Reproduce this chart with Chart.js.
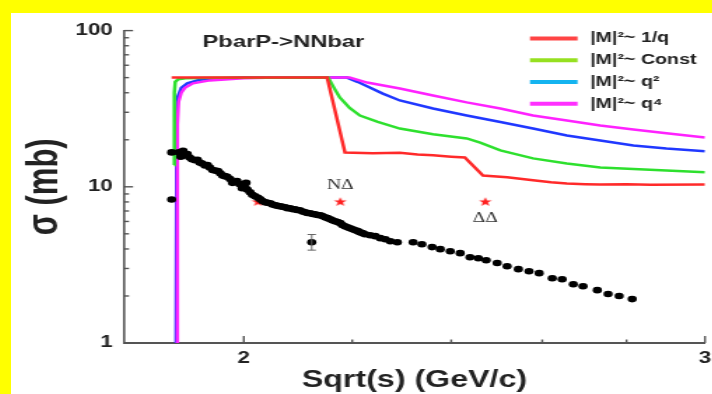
<!DOCTYPE html>
<html lang="en">
<head>
  <meta charset="UTF-8">
  <title>PbarP->NNbar</title>
  <script src="https://cdn.jsdelivr.net/npm/chart.js"></script>
  <style>
    html, body { margin: 0; padding: 0; background: #ffff00; overflow: hidden; }
    #frame { position: absolute; left: 11px; top: 13px; width: 701px; height: 381px; background: #fff; overflow: hidden; }
    #wrap { width: 501px; height: 381px; transform: scaleX(1.4); transform-origin: 0 0; }
  </style>
</head>
<body>
  <div id="frame"><div id="wrap"><canvas id="chart" width="501" height="381"></canvas></div></div>

  <script>
    // axis ticks
    const xTickValues = [2, 2.2, 2.4, 2.6, 2.8, 3];
    const xMajor = [2, 3];
    const yTickValues = [1, 2, 3, 4, 5, 6, 7, 8, 9, 10, 20, 30, 40, 50, 60, 70, 80, 90, 100];
    const yMajor = [1, 10, 100];

    // model curves (sqrt(s), sigma mb)
    const curveNames = ['|M|²~ 1/q', '|M|²~ Const', '|M|²~ q²', '|M|²~ q⁴'];
    const redCurve = [[1.877, 50], [2.152, 50], [2.186, 16.6], [2.24, 16.4], [2.294, 16.5], [2.33, 16.1], [2.362, 15.9],
      [2.40, 15.6], [2.429, 15.4], [2.468, 11.8], [2.521, 11.5], [2.579, 11.0], [2.62, 10.7], [2.657, 10.5],
      [2.70, 10.4], [2.736, 10.35], [2.8, 10.4], [2.86, 10.3], [3.0, 10.35]];
    const greenCurve = [[1.881, 13.8], [1.8815, 40], [1.883, 47], [1.888, 48.8], [1.90, 49.5], [1.95, 49.9], [2.154, 50],
      [2.165, 43], [2.176, 37.3], [2.195, 32], [2.215, 28.6], [2.25, 26], [2.294, 23.6], [2.362, 21.7], [2.433, 20.4],
      [2.462, 19.2], [2.506, 17.1], [2.579, 15.2], [2.657, 14.1], [2.736, 13.3], [2.817, 13.0], [2.9, 12.7], [3.0, 12.4]];
    const blueCurve = [[1.8843, 0.9], [1.8855, 30], [1.8875, 38], [1.893, 43], [1.903, 46], [1.924, 48.5], [1.96, 49.5],
      [2.0, 50], [2.19, 50], [2.21, 47], [2.229, 44], [2.26, 39.5], [2.294, 35.7], [2.362, 31.7], [2.433, 28.6],
      [2.506, 26.0], [2.579, 23.6], [2.657, 21.3], [2.736, 19.8], [2.817, 18.4], [2.90, 17.6], [3.0, 16.9]];
    const magentaCurve = [[1.8855, 0.9], [1.8865, 25], [1.8885, 35], [1.893, 40], [1.899, 43], [1.9125, 46], [1.941, 48],
      [2.0, 49.5], [2.06, 50], [2.195, 50], [2.229, 46.5], [2.294, 42.6], [2.362, 38.4], [2.433, 34.7], [2.506, 31.7],
      [2.579, 28.6], [2.657, 26.6], [2.736, 24.7], [2.817, 23.3], [2.90, 22.0], [3.0, 20.7]];

    // measured points
    const dataPoints = [[1.877, 16.6], [1.877, 8.3],
      [1.889, 16.6], [1.892, 15.6], [1.896, 17.0], [1.899, 15.9], [1.903, 16.2], [1.907, 15.4], [1.911, 15.0],
      [1.916, 14.8], [1.920, 14.9], [1.924, 14.3], [1.928, 14.1], [1.933, 13.7], [1.937, 13.8], [1.941, 13.3],
      [1.946, 12.8], [1.950, 12.7], [1.955, 12.6], [1.959, 12.2], [1.963, 11.8], [1.967, 11.7], [1.971, 11.6],
      [1.976, 11.2], [1.980, 10.6], [1.984, 10.7], [1.988, 10.9], [1.993, 10.4], [1.997, 9.8], [2.002, 9.93],
      [2.004, 10.6], [2.006, 9.6], [2.011, 9.22], [2.015, 8.9], [2.020, 8.70], [2.025, 8.5], [2.029, 8.32],
      [2.033, 8.1], [2.038, 7.96], [2.042, 7.9], [2.047, 7.85], [2.051, 7.7], [2.056, 7.62], [2.060, 7.55],
      [2.065, 7.51], [2.069, 7.45], [2.074, 7.40], [2.078, 7.3], [2.083, 7.29], [2.087, 7.2], [2.092, 7.18],
      [2.096, 7.1], [2.101, 7.07], [2.106, 6.95], [2.111, 6.87], [2.115, 6.8], [2.120, 6.77], [2.125, 6.7],
      [2.129, 6.67], [2.134, 6.6], [2.139, 6.58], [2.143, 6.5], [2.148, 6.39], [2.153, 6.3], [2.158, 6.20],
      [2.162, 6.1], [2.167, 6.02], [2.172, 5.95], [2.177, 5.85], [2.181, 5.7], [2.186, 5.59], [2.191, 5.5],
      [2.196, 5.43], [2.201, 5.35], [2.206, 5.27], [2.211, 5.2], [2.215, 5.12], [2.220, 5.05], [2.225, 4.97],
      [2.235, 4.90], [2.245, 4.83], [2.255, 4.69], [2.265, 4.62], [2.275, 4.48], [2.289, 4.42],
      [2.321, 4.42], [2.339, 4.29], [2.360, 4.11], [2.377, 3.99], [2.398, 3.87], [2.419, 3.76], [2.440, 3.54],
      [2.458, 3.49], [2.475, 3.39], [2.499, 3.25], [2.521, 3.10], [2.546, 2.97], [2.570, 2.88], [2.593, 2.80],
      [2.623, 2.60], [2.646, 2.56], [2.672, 2.38], [2.695, 2.31], [2.729, 2.18], [2.755, 2.06], [2.782, 2.00],
      [2.814, 1.91], [2.123, 4.42]];
    const errX = [2.123];
    const errLow = [3.93];
    const errHigh = [4.95];

    // thresholds
    const starX = [2.025, 2.177, 2.473];
    const starY = [8.0, 8.0, 8.0];
    const starLabels = ['', 'NΔ', 'ΔΔ'];

    const curveColors = ['#ff2a2a', '#2ee02e', '#2038ff', '#ff22ff'];
    const legendColors = ['#ff4444', '#96e020', '#14b4f0', '#ff30ff'];

    const toXY = arr => arr.map(([x, y]) => ({ x, y }));

    const starImg = document.createElement('canvas');
    starImg.width = 10; starImg.height = 10;
    const sc = starImg.getContext('2d');
    sc.fillStyle = '#ff2020';
    sc.beginPath();
    for (let i = 0; i < 10; i++) {
      const r = i % 2 ? 2 : 4.8, a = -Math.PI / 2 + i * Math.PI / 5;
      sc.lineTo(5 + r * Math.cos(a), 5 + r * Math.sin(a));
    }
    sc.fill();

    const curve = (label, data, color) => ({
      label, data: toXY(data), showLine: true, borderColor: color, borderWidth: 2.5,
      pointRadius: 0, tension: 0, fill: false
    });

    // extra drawing: inward ticks, legend, title, star labels, error bars
    const decorations = {
      id: 'decorations',
      afterDraw(chart) {
        const { ctx, chartArea: ca, scales: { x, y } } = chart;
        ctx.save();
        ctx.strokeStyle = '#555';
        ctx.lineWidth = 1.4;
        x.ticks.forEach(t => {
          const px = x.getPixelForValue(t.value);
          const len = xMajor.includes(t.value) ? 7 : 3.5;
          ctx.beginPath(); ctx.moveTo(px, ca.bottom); ctx.lineTo(px, ca.bottom - len); ctx.stroke();
        });
        y.ticks.forEach(t => {
          const py = y.getPixelForValue(t.value);
          const len = yMajor.includes(t.value) ? 6.5 : 3.6;
          ctx.beginPath(); ctx.moveTo(ca.left, py); ctx.lineTo(ca.left + len, py); ctx.stroke();
        });

        // error bars
        ctx.strokeStyle = '#666';
        ctx.lineWidth = 1;
        errX.forEach((v, i) => {
          const px = x.getPixelForValue(v);
          const lo = y.getPixelForValue(errLow[i]), hi = y.getPixelForValue(errHigh[i]);
          ctx.beginPath();
          ctx.moveTo(px, lo); ctx.lineTo(px, hi);
          ctx.moveTo(px - 3, lo); ctx.lineTo(px + 3, lo);
          ctx.moveTo(px - 3, hi); ctx.lineTo(px + 3, hi);
          ctx.stroke();
        });

        // star labels
        ctx.fillStyle = '#333';
        ctx.font = '14px "Liberation Serif", serif';
        ctx.textAlign = 'center';
        ctx.textBaseline = 'middle';
        starLabels.forEach((txt, i) => {
          if (!txt) return;
          const px = x.getPixelForValue(starX[i]);
          const py = y.getPixelForValue(starY[i]);
          ctx.fillText(txt, px, py + (i === 1 ? -17 : 16));
        });

        // title
        ctx.fillStyle = '#222';
        ctx.font = 'bold 17px "Liberation Sans", Arial, sans-serif';
        ctx.textAlign = 'left';
        ctx.fillText('PbarP->NNbar', ca.left + 56, ca.top + 12);

        // legend
        ctx.font = 'bold 14px "Liberation Sans", Arial, sans-serif';
        curveNames.forEach((name, i) => {
          const ly = ca.top + 8 + i * 21.7;
          ctx.strokeStyle = legendColors[i];
          ctx.lineWidth = 4;
          ctx.beginPath(); ctx.moveTo(ca.right - 125, ly); ctx.lineTo(ca.right - 91, ly); ctx.stroke();
          ctx.fillStyle = '#222';
          ctx.fillText(name, ca.right - 82, ly);
        });
        ctx.restore();
      }
    };

    const tickFont = { family: '"Liberation Sans", Arial, sans-serif', size: 16, weight: 'bold' };

    new Chart(document.getElementById('chart'), {
      type: 'scatter',
      data: {
        datasets: [
          { label: 'data', data: toXY(dataPoints), backgroundColor: '#000', borderWidth: 0, pointRadius: 3.3 },
          { label: 'thresholds', data: starX.map((v, i) => ({ x: v, y: starY[i] })), pointStyle: starImg },
          curve(curveNames[0], redCurve, curveColors[0]),
          curve(curveNames[1], greenCurve, curveColors[1]),
          curve(curveNames[3], magentaCurve, curveColors[3]),
          curve(curveNames[2], blueCurve, curveColors[2])
        ]
      },
      options: {
        responsive: false,
        animation: false,
        layout: { padding: { top: 17, right: 5.3, left: 0, bottom: 0 } },
        plugins: { legend: { display: false }, tooltip: { enabled: false } },
        scales: {
          x: {
            type: 'logarithmic', min: 1.8, max: 3, bounds: 'data',
            afterBuildTicks: s => { s.ticks = xTickValues.map(v => ({ value: v })); },
            afterFit: s => { s.height = 51; s.paddingLeft = 0; s.paddingRight = 0; },
            ticks: {
              callback: v => xMajor.includes(v) ? String(v) : '',
              autoSkip: false, maxRotation: 0, padding: 6, font: tickFont, color: '#222'
            },
            grid: { display: false, drawTicks: false },
            border: { color: '#555', width: 2 },
            title: {
              display: true, text: 'Sqrt(s) (GeV/c)', color: '#222', padding: { top: 0, bottom: 0 },
              font: { family: '"Liberation Sans", Arial, sans-serif', size: 23, weight: 'bold' }
            }
          },
          y: {
            type: 'logarithmic', min: 1, max: 100, bounds: 'data',
            afterBuildTicks: s => { s.ticks = yTickValues.map(v => ({ value: v })); },
            afterFit: s => { s.width = 80.7; },
            ticks: {
              callback: v => yMajor.includes(v) ? String(v) : '',
              autoSkip: false, padding: 8, font: tickFont, color: '#222'
            },
            grid: { display: false, drawTicks: false },
            border: { color: '#555', width: 1.6 },
            title: {
              display: true, text: 'σ (mb)', color: '#222', padding: { top: 6, bottom: 0 },
              font: { family: '"Liberation Sans", Arial, sans-serif', size: 31, weight: 'bold' }
            }
          }
        }
      },
      plugins: [decorations]
    });
  </script>
</body>
</html>
